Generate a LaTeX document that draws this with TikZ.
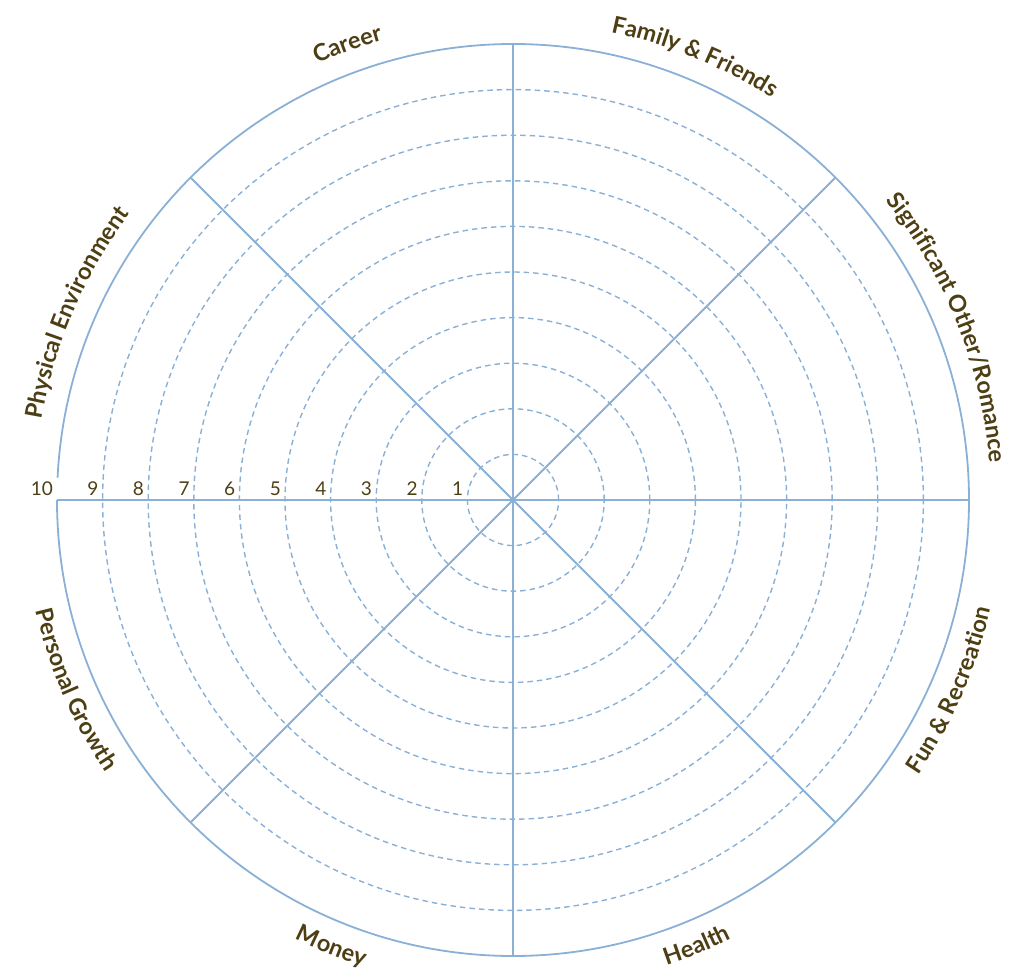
\documentclass[tikz,border=0pt]{standalone}
\usepackage{fontspec}
\setmainfont{Lato}
\usetikzlibrary{decorations.text}
\definecolor{wheelblue}{RGB}{138,176,214}
\definecolor{lbltext}{RGB}{78,62,20}
\newcommand{\lblfont}{\fontsize{23.5}{23.5}\selectfont\bfseries}
\begin{document}
\begin{tikzpicture}[x=1pt,y=1pt,
  rim/.style={wheelblue,line width=1.8pt},
  ring/.style={wheelblue,line width=1.4pt,dash pattern=on 5.5pt off 4pt},
  numlbl/.style={above left,inner sep=4pt,text=lbltext,font=\fontsize{19}{19}\selectfont},
  toplbl/.style={decorate,decoration={text along path,text align=center,text color=lbltext,text={|\lblfont|#1}}}]
\pgfmathsetmacro{\kr}{45.6}
\pgfmathsetmacro{\kR}{10*\kr}
\pgfmathsetmacro{\kT}{478}
\pgfmathsetmacro{\kB}{490}
\useasboundingbox (-513,-477) rectangle (498,500);
\coordinate (o) at (0,0);
\foreach \k in {1,...,9}{\draw[ring] (o) circle[radius=\k*\kr];}
\draw[rim] (-180:\kR) arc[start angle=-180,end angle=177.2,radius=\kR];
\foreach \a in {0,45,...,315}{\draw[rim] (o) -- (\a:\kR);}
\foreach \k in {1,...,10}{\node[numlbl] (n\k) at (180:{\k*\kr}) {\k};}
\path[toplbl={Career}] (140:\kT) arc[start angle=140,end angle=80,radius=\kT];
\path[toplbl={Family {\&} Friends}] (97.7:\kT) arc[start angle=97.7,end angle=37.7,radius=\kT];
\path[toplbl={Significant Other/Romance}] (51.6:\kT) arc[start angle=51.6,end angle=-8.4,radius=\kT];
\path[toplbl={Physical Environment}] (186.8:\kT) arc[start angle=186.8,end angle=126.8,radius=\kT];
\path[toplbl={Fun {\&} Recreation}] (-53.5:\kB) arc[start angle=-53.5,end angle=6.5,radius=\kB];
\path[toplbl={Health}] (-97.6:\kB) arc[start angle=-97.6,end angle=-37.6,radius=\kB];
\path[toplbl={Money}] (-142.1:\kB) arc[start angle=-142.1,end angle=-82.1,radius=\kB];
\path[toplbl={Personal Growth}] (-186.6:\kB) arc[start angle=-186.6,end angle=-126.6,radius=\kB];
\end{tikzpicture}
\end{document}
